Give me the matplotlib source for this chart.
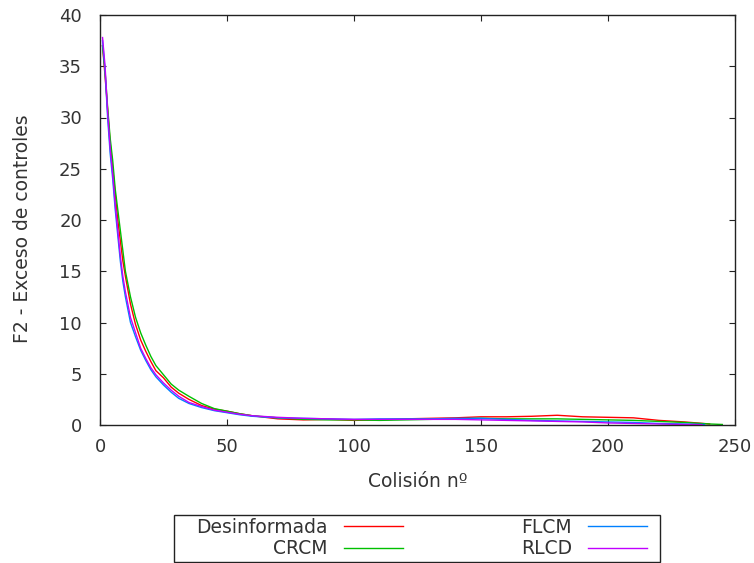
import matplotlib
matplotlib.use("Agg")
import matplotlib.pyplot as plt
import matplotlib.patches as patches

# collision number sample points and F2 values per strategy
x_desinf = [1, 2, 3, 4, 5, 6, 7, 8, 9, 10, 12, 14, 16, 18, 20, 22, 25, 28, 31, 35, 40, 45, 50, 55, 60,
            70, 80, 90, 100, 110, 120, 130, 140, 150, 160, 170, 180, 190, 200, 210, 220, 230, 240]
y_desinf = [37.0, 34.0, 30.8, 27.5, 25.0, 22.5, 20.0, 18.0, 16.0, 14.5, 11.8, 9.8, 8.3, 7.2, 6.2, 5.3, 4.6, 3.7, 3.1, 2.5, 1.9, 1.55, 1.35, 1.1, 0.9,
            0.6, 0.5, 0.55, 0.45, 0.5, 0.6, 0.65, 0.7, 0.8, 0.8, 0.85, 0.95, 0.8, 0.75, 0.7, 0.45, 0.3, 0.1]

x_crcm = [1, 2, 3, 4, 5, 6, 7, 8, 9, 10, 12, 14, 16, 18, 20, 22, 25, 28, 31, 35, 40, 45, 50, 55, 60,
          70, 80, 90, 100, 110, 120, 130, 140, 150, 160, 170, 180, 190, 200, 210, 220, 230, 240, 245]
y_crcm = [37.0, 34.5, 31.0, 28.0, 25.8, 23.0, 21.0, 19.0, 17.0, 15.0, 12.5, 10.5, 9.0, 7.8, 6.7, 5.8, 4.9, 4.0, 3.4, 2.8, 2.1, 1.6, 1.35, 1.1, 0.9,
          0.7, 0.55, 0.5, 0.5, 0.45, 0.5, 0.55, 0.6, 0.65, 0.6, 0.6, 0.6, 0.55, 0.5, 0.45, 0.35, 0.25, 0.1, 0.05]

x_flcm = [1, 2, 3, 4, 5, 6, 7, 8, 9, 10, 12, 14, 16, 18, 20, 22, 25, 28, 31, 35, 40, 45, 50, 55, 60,
          70, 80, 90, 100, 110, 120, 130, 140, 150, 160, 170, 180, 190, 200, 210, 220, 230, 238]
y_flcm = [37.5, 34.5, 30.0, 26.5, 24.0, 21.0, 18.5, 16.0, 14.0, 12.5, 10.0, 8.6, 7.3, 6.3, 5.4, 4.7, 3.9, 3.2, 2.6, 2.1, 1.7, 1.4, 1.2, 1.0, 0.85,
          0.7, 0.65, 0.6, 0.55, 0.6, 0.6, 0.6, 0.65, 0.65, 0.55, 0.45, 0.4, 0.35, 0.3, 0.25, 0.15, 0.1, 0.05]

x_rlcd = [1, 2, 3, 4, 5, 6, 7, 8, 9, 10, 12, 14, 16, 18, 20, 22, 25, 28, 31, 35, 40, 45, 50, 55, 60,
          70, 80, 90, 100, 110, 120, 130, 140, 150, 160, 170, 180, 190, 200, 210, 220, 230, 237]
y_rlcd = [37.8, 35.0, 30.5, 27.0, 24.5, 21.5, 19.0, 16.5, 14.5, 13.0, 10.5, 9.0, 7.5, 6.5, 5.6, 4.9, 4.1, 3.4, 2.8, 2.2, 1.8, 1.45, 1.25, 1.05, 0.9,
          0.75, 0.65, 0.6, 0.55, 0.55, 0.55, 0.55, 0.55, 0.5, 0.45, 0.4, 0.35, 0.3, 0.2, 0.15, 0.1, 0.05, 0.03]

labels = ["Desinformada", "CRCM", "FLCM", "RLCD"]
colors = ["#ff0000", "#00c000", "#0080ff", "#c000ff"]

x_ticks = [0, 50, 100, 150, 200, 250]
y_ticks = [0, 5, 10, 15, 20, 25, 30, 35, 40]

plt.rcParams["font.family"] = ["DejaVu Sans"]
fig = plt.figure(figsize=(7.54, 5.63), dpi=100)
ax = fig.add_axes([100 / 754, 138 / 563, 635 / 754, 410 / 563])

series = [(x_desinf, y_desinf), (x_crcm, y_crcm), (x_flcm, y_flcm), (x_rlcd, y_rlcd)]
lines = []
for (xs, ys), lab, col in zip(series, labels, colors):
    ln, = ax.plot(xs, ys, color=col, lw=1.0, label=lab)
    lines.append(ln)

ax.set_xlim(0, 250)
ax.set_ylim(0, 40)
ax.set_xticks(x_ticks)
ax.set_yticks(y_ticks)
ax.tick_params(direction="in", length=4.5, width=0.8, top=True, right=True,
               labelsize=13, labelcolor="#333333", color="#222222")
ax.tick_params(axis="x", pad=9.5)
ax.tick_params(axis="y", pad=13)
for sp in ax.spines.values():
    sp.set_color("#222222")
    sp.set_linewidth(1.0)

ax.set_xlabel("Colisión nº", fontsize=13.5, color="#333333", va="top")
ax.set_ylabel("F2 - Exceso de controles", fontsize=13.5, color="#333333")
ax.xaxis.set_label_coords(0.5, -0.115)
ax.yaxis.set_label_coords(-0.107, 0.48)

# legend below the plot, gnuplot-style: text right-aligned, sample after it
fig.legend(lines, labels, loc="center", bbox_to_anchor=(421.5 / 754, 1 - 538 / 563),
           ncol=2, markerfirst=False, frameon=False, fontsize=13.5, labelcolor="#333333",
           handlelength=3.15, handletextpad=0.85, columnspacing=6.3, labelspacing=0.15)
box = patches.Rectangle((174 / 754, 1 - 562 / 563), 486 / 754, 47 / 563,
                        transform=fig.transFigure, fill=False, edgecolor="#222222", lw=1.0)
fig.patches.append(box)

fig.savefig("out.png", dpi=100)
